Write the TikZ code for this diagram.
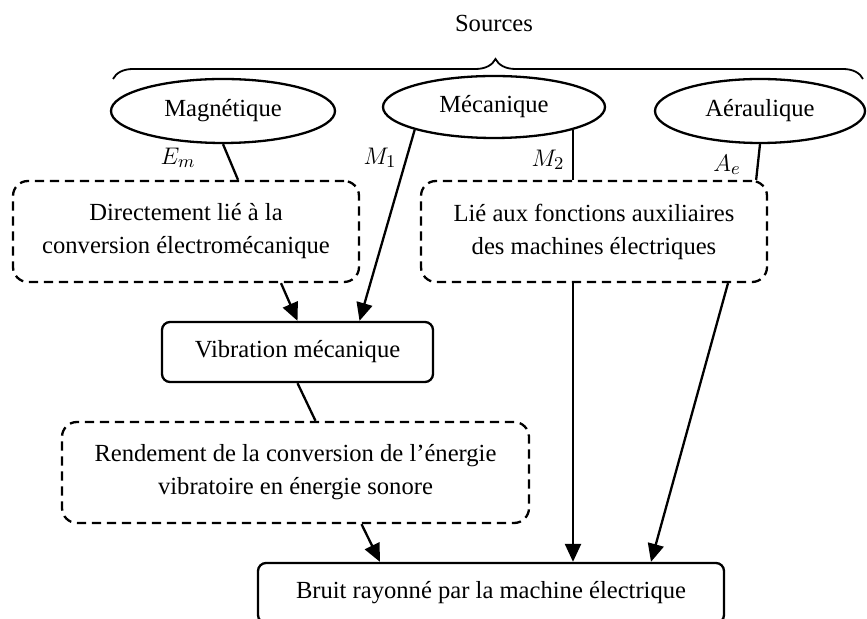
\documentclass[tikz,border=0pt]{standalone}
\usepackage{fontspec}
\setmainfont{Liberation Serif}
\usetikzlibrary{shapes.geometric,arrows.meta,decorations.pathreplacing}

\begin{document}
\begin{tikzpicture}[x=0.5pt,y=-0.5pt,
  font=\fontsize{12.3}{16.5}\selectfont,
  line width=1.15pt,
  srcell/.style={ellipse, draw, inner sep=0pt},
  dbox/.style={draw, dash pattern=on 4.6pt off 2.9pt, rounded corners=7.5pt,
    minimum width=173pt, minimum height=50.5pt, align=center},
  sbox/.style={draw, rounded corners=4pt, align=center},
  arr/.style={-{Triangle[length=9pt,width=8pt]}},
  lbl/.style={inner sep=0pt}]
\useasboundingbox (0,0) rectangle (867,619);

% sources
\node (srctitle) at (494,23) {Sources};
\draw[decorate, decoration={brace, amplitude=10pt, aspect=0.51}, line width=0.9pt] (113,79) -- (863,79);
\node[srcell, minimum width=112pt, minimum height=32pt] (mag) at (223,111) {Magnétique};
\node[srcell, minimum width=111pt, minimum height=31pt] (mec) at (494,107) {Mécanique};
\node[srcell, minimum width=105pt, minimum height=32pt] (aer) at (760,111) {Aéraulique};

% boxes
\node[dbox] (direct) at (186,231.5) {Directement lié à la\\conversion électromécanique};
\node[dbox] (auxil) at (594,231.5) {Lié aux fonctions auxiliaires\\des machines électriques};
\node[sbox, minimum width=135.5pt, minimum height=30pt] (vib) at (297.5,352) {Vibration mécanique};
\node[dbox, minimum width=233.5pt] (rend) at (295.5,472.5) {Rendement de la conversion de l’énergie\\vibratoire en énergie sonore};
\node[sbox, minimum width=233pt, minimum height=30pt] (bruit) at (491,593) {Bruit rayonné par la machine électrique};

% labels
\node[lbl] (em) at (178,158) {$E_m$};
\node[lbl] (m1) at (380,158) {$M_1$};
\node[lbl] (m2) at (548,160) {$M_2$};
\node[lbl] (ae) at (727,165) {$A_e$};

% connectors
\coordinate (auxout) at ([xshift=-10.5pt]auxil.south);
\draw (mag.south) -- ([xshift=26pt]direct.north);
\draw[arr] (mec.south west) -- ([xshift=31pt]vib.north);
\draw (mec.south east) -- (mec.south east |- auxil.north);
\draw (aer.south) -- ([xshift=-6pt]auxil.north east);
\draw[arr] ([xshift=47.5pt]direct.south) -- (vib.north);
\draw (vib.south) -- ([xshift=10pt]rend.north);
\draw[arr] ([xshift=33pt]rend.south) -- ([xshift=-55.5pt]bruit.north);
\draw[arr] (auxout) -- (auxout |- bruit.north);
\draw[arr] ([xshift=67pt]auxil.south) -- ([xshift=80pt]bruit.north);
\end{tikzpicture}
\end{document}
